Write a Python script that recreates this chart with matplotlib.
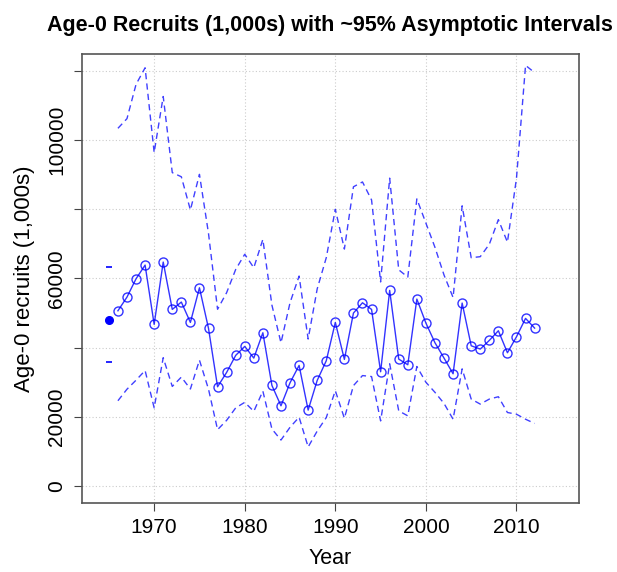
import matplotlib
matplotlib.use("Agg")
import matplotlib.pyplot as plt
import numpy as np

plt.rcParams['font.family'] = ['Liberation Sans', 'DejaVu Sans']

# first year (unfitted / initial recruit)
first_year = 1965
first_est = 48000
first_upper = 63400
first_lower = 36000

years = list(range(1966, 2013))
est = [50660, 54620, 59910, 63870, 46730, 64740, 51060, 53180, 47300, 57310,
       45570, 28700, 32850, 37770, 40370, 36990, 44310, 29090, 23210, 29860,
       34870, 21960, 30540, 36220, 47300, 36610, 50000, 52980, 51060, 33040,
       56550, 36700, 35060, 54040, 47110, 41420, 36990, 32460, 52890, 40550,
       39590, 42100, 44890, 38530, 43150, 48460, 45660]
upper = [103400, 106200, 116100, 120900, 96400, 112600, 90600, 89400, 79800, 90100,
         73000, 51100, 55900, 62600, 67000, 63100, 71300, 52300, 41400, 53000,
         60700, 42500, 57000, 66000, 80000, 68500, 86500, 87900, 82700, 59000,
         89000, 62500, 60400, 83000, 76000, 69000, 61000, 54500, 81000, 66000,
         66300, 69900, 77000, 70500, 89000, 121600, 119500]
lower = [24660, 28000, 30600, 33400, 22600, 37100, 28800, 31500, 28050, 36400,
         28000, 16300, 19000, 22600, 24200, 21600, 27450, 16500, 13300, 17000,
         19900, 11300, 15900, 19800, 27570, 19610, 29030, 31940, 31650, 18830,
         35340, 21740, 20290, 34560, 30000, 27090, 23880, 19320, 33880, 25140,
         23690, 25140, 25820, 21260, 20770, 19320, 18100]

xticks = [1970, 1980, 1990, 2000, 2010]
yticks = [0, 20000, 40000, 60000, 80000, 100000, 120000]
ytick_labels = ['0', '20000', '', '60000', '', '100000', '']

fig = plt.figure(figsize=(6.17, 5.72), dpi=100)
ax = fig.add_axes([0.1324, 0.1206, 0.8060, 0.7845])

ax.plot(years, upper, '--', color='blue', alpha=0.75, lw=1, dashes=(4.5, 3))
ax.plot(years, lower, '--', color='blue', alpha=0.75, lw=1, dashes=(4.5, 3))
ax.plot(years, est, '-', color='blue', alpha=0.8, lw=1,
        marker='o', mfc='none', mec='blue', ms=6.5, mew=1)
ax.plot([first_year], [first_est], 'o', color='blue', ms=5.5)
ax.plot([first_year, first_year], [first_upper, first_lower], '_',
        color='blue', ms=4, mew=1.2)

ax.set_xlim(1962.0, 2016.9)
ax.set_ylim(-4900, 124800)
ax.set_xticks(xticks)
ax.set_yticks(yticks)
ax.set_yticklabels(ytick_labels, rotation=90, va='center')
ax.tick_params(labelsize=15, length=6, width=0.8, color='#444444', pad=5)
ax.grid(True, color='#cccccc', ls=(0, (1, 2)), lw=0.8)
ax.set_axisbelow(True)
for s in ax.spines.values():
    s.set_color('#555555')
    s.set_linewidth(1.2)

ax.set_xlabel('Year', fontsize=15.5, labelpad=8)
ax.set_ylabel('Age-0 recruits (1,000s)', fontsize=16, labelpad=9)
ax.set_title('Age-0 Recruits (1,000s) with ~95% Asymptotic Intervals',
             fontsize=15.5, fontweight='bold', pad=17)

fig.savefig('out.png', dpi=100)
